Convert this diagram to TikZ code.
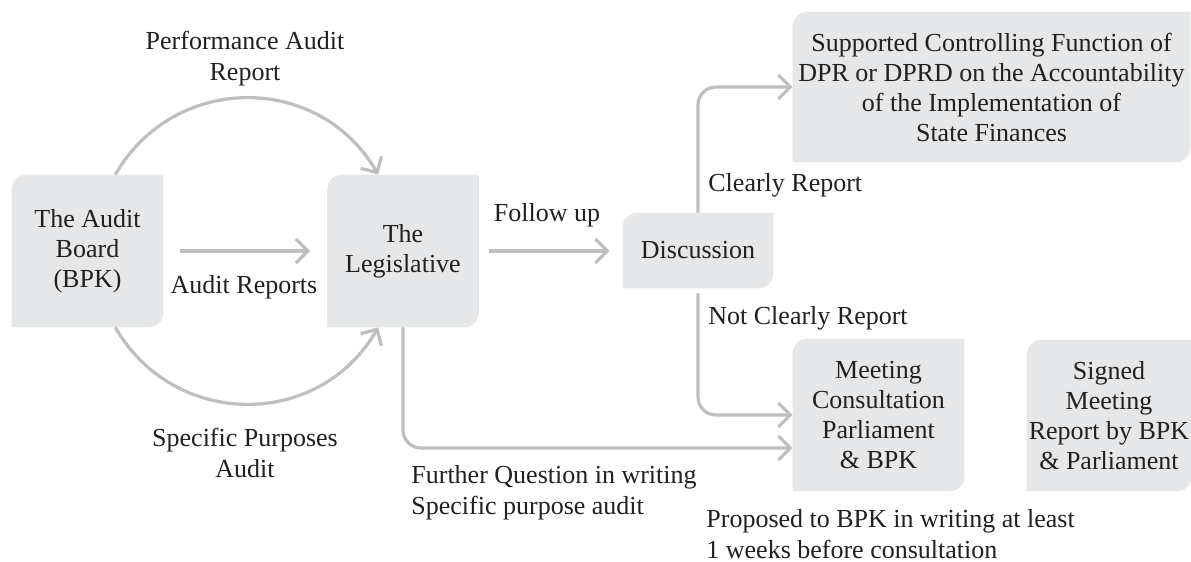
\documentclass[tikz,border=0pt]{standalone}
\definecolor{boxGray}{RGB}{230, 231, 232}
\definecolor{lineGray}{RGB}{190, 191, 193}
\definecolor{darkText}{RGB}{35, 31, 32}
\usepackage{fontspec}
\setmainfont{Liberation Serif}
\usepackage{tikz}
\usetikzlibrary{positioning,calc,backgrounds,arrows.meta}

\tikzset{
    stagebox/.style={inner sep=0pt,align=center,text=darkText,font=\fontsize{13}{15}\selectfont},
    lbl/.style={inner sep=0pt,align=center,text=darkText,font=\fontsize{13}{15.5}\selectfont},
    flow/.style={draw=lineGray,line width=1.6pt,-{Straight Barb[length=6pt,width=12pt]}}
}

\begin{document}
\begin{tikzpicture}[x=0.5pt,y=0.5pt]
        \useasboundingbox (0,0) rectangle (1191,-562);

        % stages
        \node[stagebox,minimum width=75.5pt,minimum height=76pt] (board) at (87.5,-251) {The Audit\\Board\\(BPK)};
        \node[stagebox,minimum width=75.5pt,minimum height=76pt] (legis) at (403,-251) {The\\Legislative};
        \node[stagebox,minimum width=75pt,minimum height=37.5pt] (disc) at (698,-250.5) {Discussion};
        \node[stagebox,minimum width=198.5pt,minimum height=75pt] (support) at (991.5,-87) {Supported Controlling Function of\\DPR or DPRD on the Accountability\\of the Implementation of\\State Finances};
        \node[stagebox,minimum width=85.5pt,minimum height=76pt] (meet) at (878.5,-415) {Meeting\\Consultation\\Parliament\\\& BPK};
        \node[stagebox,minimum width=82pt,minimum height=75.5pt] (signed) at (1109,-415.5) {Signed\\Meeting\\Report by BPK\\\& Parliament};

        \begin{scope}[on background layer]
            \foreach \n in {board,legis,disc,support,meet,signed}
                \fill[boxGray] (\n.south west) [rounded corners=7.5pt] -- (\n.north west) [sharp corners] -- (\n.north east) [rounded corners=7.5pt] -- (\n.south east) [sharp corners] -- cycle;
        \end{scope}

        % connectors
        \draw[flow] (board.70) to[out=60,in=120,looseness=1.15] (legis.108);
        \draw[flow] (board.-70) to[out=-60,in=-120,looseness=1.15] (legis.-108);
        \draw[flow,shorten <=8.5pt,shorten >=8.5pt] (board) -- (legis);
        \draw[flow,shorten <=5pt,shorten >=6.5pt] (legis.east) -- (legis.east -| disc.west);
        \draw[flow,rounded corners=9pt] (disc.north) |- (support.west);
        \draw[flow,rounded corners=9pt,shorten <=2.5pt] (disc.south) |- (meet.west);
        \draw[flow,rounded corners=9pt] (legis.south) |- ([yshift=-16.5pt]meet.west);

        % labels
        \node[lbl] (perfLbl) at (245,-59) {Performance Audit\\Report};
        \node[lbl] (auditLbl) at (244,-287) {Audit Reports};
        \node[lbl] (specLbl) at (245,-453) {Specific Purposes\\Audit};
        \node[lbl] (followLbl) at (547,-215) {Follow up};
        \node[lbl,anchor=west] (clearLbl) at (708,-185) {Clearly Report};
        \node[lbl,anchor=west] (notClearLbl) at (708,-318) {Not Clearly Report};
        \node[lbl,anchor=west,align=left] (furtherLbl) at (411,-493) {Further Question in writing\\Specific purpose audit};
        \node[lbl,anchor=west,align=left] (proposedLbl) at (706,-534) {Proposed to BPK in writing at least\\1 weeks before consultation};
    \end{tikzpicture}
\end{document}
